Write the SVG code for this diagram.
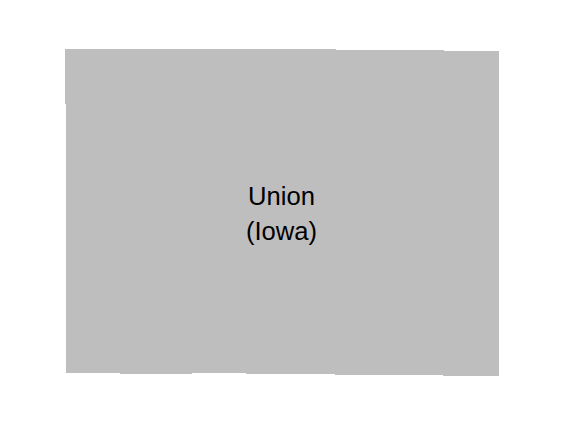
<svg xmlns="http://www.w3.org/2000/svg" width="564" height="425" viewBox="0 0 564 425">
  <style>
    .region { fill: #bebebe; stroke: none; shape-rendering: crispEdges; }
    .label { font-family: "Liberation Sans", Arial, sans-serif; font-size: 25.6px; fill: #000; text-anchor: middle; }
  </style>
  <rect width="564" height="425" fill="#ffffff"/>
  <g id="union-iowa">
    <polygon class="region" points="65,49 336,49 336,50 444,50 444,51 499,51 499,376 443,376 443,375 335,375 335,374 246,374 246,373 192,373 192,374 120,374 120,373 66,373 66,104 65,104"/>
    <text class="label" x="281.5" y="205">Union</text>
    <text class="label" x="281.5" y="240">(Iowa)</text>
  </g>
</svg>
